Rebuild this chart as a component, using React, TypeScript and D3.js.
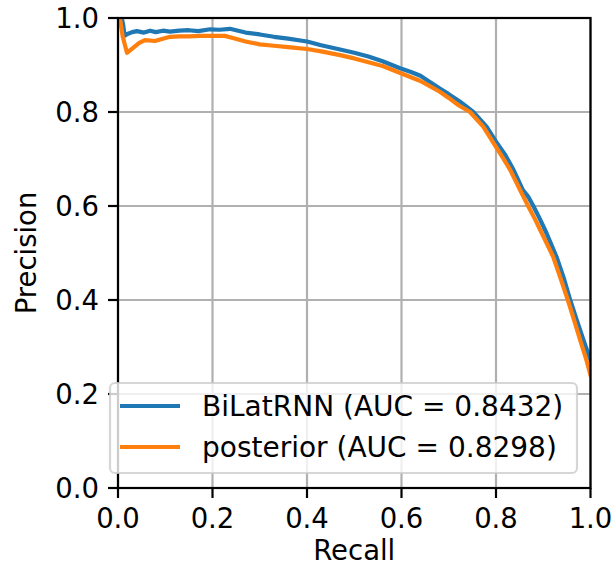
import React from "react";
import * as d3 from "d3";

const xTicks = [0.0, 0.2, 0.4, 0.6, 0.8, 1.0];
const yTicks = [0.0, 0.2, 0.4, 0.6, 0.8, 1.0];

const bilatRecall = [0, 0.008, 0.011, 0.014, 0.02, 0.03, 0.04, 0.055, 0.068, 0.08, 0.095, 0.11, 0.13, 0.15, 0.17, 0.195, 0.215, 0.237, 0.25, 0.27, 0.30, 0.33, 0.36, 0.40, 0.43, 0.47, 0.50, 0.53, 0.56, 0.597, 0.62, 0.64, 0.66, 0.681, 0.70, 0.724, 0.752, 0.78, 0.80, 0.82, 0.837, 0.857, 0.868, 0.879, 0.893, 0.907, 0.928, 0.943, 0.957, 0.971, 0.985, 1.0];
const bilatPrecision = [1.0, 1.0, 0.985, 0.962, 0.966, 0.970, 0.972, 0.969, 0.973, 0.970, 0.973, 0.971, 0.973, 0.974, 0.972, 0.976, 0.975, 0.977, 0.974, 0.969, 0.965, 0.960, 0.956, 0.950, 0.942, 0.933, 0.926, 0.918, 0.908, 0.893, 0.885, 0.877, 0.864, 0.850, 0.838, 0.822, 0.800, 0.769, 0.737, 0.708, 0.677, 0.634, 0.620, 0.600, 0.572, 0.542, 0.492, 0.448, 0.400, 0.357, 0.315, 0.272];

const postRecall = [0, 0.004, 0.01, 0.019, 0.03, 0.045, 0.057, 0.078, 0.095, 0.11, 0.13, 0.15, 0.174, 0.20, 0.226, 0.245, 0.27, 0.30, 0.33, 0.36, 0.40, 0.43, 0.47, 0.50, 0.53, 0.56, 0.60, 0.62, 0.64, 0.66, 0.681, 0.70, 0.72, 0.745, 0.773, 0.80, 0.815, 0.830, 0.851, 0.858, 0.868, 0.883, 0.897, 0.921, 0.937, 0.952, 0.965, 0.978, 0.99, 1.0];
const postPrecision = [1.0, 1.0, 0.96, 0.926, 0.935, 0.947, 0.953, 0.951, 0.956, 0.960, 0.961, 0.961, 0.962, 0.962, 0.962, 0.957, 0.950, 0.944, 0.941, 0.938, 0.934, 0.929, 0.921, 0.914, 0.906, 0.898, 0.882, 0.874, 0.866, 0.855, 0.843, 0.830, 0.815, 0.800, 0.769, 0.726, 0.702, 0.677, 0.634, 0.620, 0.600, 0.571, 0.542, 0.492, 0.445, 0.400, 0.358, 0.315, 0.277, 0.240];

const seriesNames = ["BiLatRNN (AUC = 0.8432)", "posterior (AUC = 0.8298)"];
const seriesColors = ["#1f77b4", "#ff7f0e"];

const W = 616, H = 574;
const L = 118, R = 590.5, T = 18, B = 488;
const FONT = "DejaVu Sans, sans-serif";
const FS = 27.5;
const LFS = 28;

export default function App() {
  const x = d3.scaleLinear().domain([0, 1]).range([L, R]);
  const y = d3.scaleLinear().domain([0, 1]).range([B, T]);
  const line = d3.line<[number, number]>().x(d => x(d[0])).y(d => y(d[1]));
  const series = [
    bilatRecall.map((r, i) => [r, bilatPrecision[i]] as [number, number]),
    postRecall.map((r, i) => [r, postPrecision[i]] as [number, number]),
  ];
  return (
    <>
      <style>{`body{margin:0}`}</style>
      <svg width={W} height={H} style={{ display: "block", background: "#fff" }} fontFamily={FONT}>
        <defs>
          <clipPath id="plot">
            <rect x={L} y={T} width={R - L} height={B - T} />
          </clipPath>
        </defs>
        {xTicks.map(t => (
          <line key={"gx" + t} x1={x(t)} x2={x(t)} y1={T} y2={B} stroke="#b0b0b0" strokeWidth={2.2} />
        ))}
        {yTicks.map(t => (
          <line key={"gy" + t} x1={L} x2={R} y1={y(t)} y2={y(t)} stroke="#b0b0b0" strokeWidth={2.2} />
        ))}
        <g clipPath="url(#plot)">
          {series.map((s, i) => (
            <path key={i} d={line(s) || ""} fill="none" stroke={seriesColors[i]} strokeWidth={4.2} strokeLinejoin="round" strokeLinecap="square" />
          ))}
        </g>
        <rect x={L} y={T} width={R - L} height={B - T} fill="none" stroke="#000" strokeWidth={2.2} />
        {xTicks.map(t => (
          <g key={"xt" + t}>
            <line x1={x(t)} x2={x(t)} y1={B} y2={B + 10} stroke="#000" strokeWidth={2.2} />
            <text x={x(t)} y={528} textAnchor="middle" fontSize={FS} fill="#000">{t.toFixed(1)}</text>
          </g>
        ))}
        {yTicks.map(t => (
          <g key={"yt" + t}>
            <line x1={L - 10} x2={L} y1={y(t)} y2={y(t)} stroke="#000" strokeWidth={2.2} />
            <text x={99} y={y(t) + 9.8} textAnchor="end" fontSize={FS} fill="#000">{t.toFixed(1)}</text>
          </g>
        ))}
        <text x={(L + R) / 2} y={560} textAnchor="middle" fontSize={FS} fill="#000">Recall</text>
        <text transform={`translate(36,${(T + B) / 2}) rotate(-90)`} textAnchor="middle" fontSize={FS} fill="#000">Precision</text>
        <rect x={110} y={383} width={467} height={90} rx={5} ry={5} fill="#fff" fillOpacity={0.8} stroke="#cccccc" strokeOpacity={0.8} strokeWidth={2.2} />
        {seriesNames.map((n, i) => (
          <g key={"lg" + i}>
            <line x1={120} x2={180} y1={406 + i * 41} y2={406 + i * 41} stroke={seriesColors[i]} strokeWidth={4.2} />
            <text x={202} y={416 + i * 41} fontSize={LFS} fill="#000">{n}</text>
          </g>
        ))}
      </svg>
    </>
  );
}
